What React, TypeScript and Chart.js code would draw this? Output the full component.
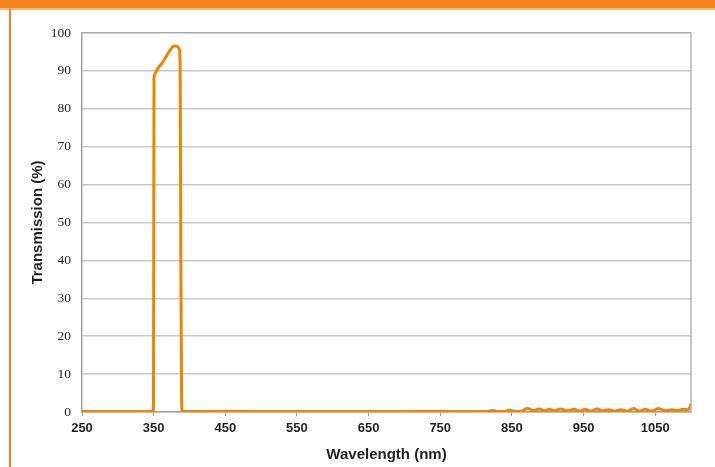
import React, { useEffect, useRef } from "react";
import { Chart, registerables } from "chart.js";

Chart.register(...registerables);

const wavelengthNm = [
  250, 300, 349, 349.8, 350.5, 352, 354, 357, 360, 365, 370, 375, 378, 381, 384, 386, 387, 388, 389, 390,
  420, 450, 550, 650, 750, 780, 800, 815, 823, 831, 840, 847, 855, 864, 872, 880, 888, 895, 902, 910,
  918, 927, 937, 945, 952, 960, 969, 977, 985, 993, 1002, 1011, 1020, 1028, 1036, 1045, 1054, 1064,
  1073, 1081, 1089, 1095, 1098, 1100,
];
const transmissionPct = [
  0.1, 0.1, 0.1, 2, 88, 89.3, 90, 90.9, 91.6, 93, 94.6, 96, 96.6, 96.6, 96.3, 95.6, 90, 40, 3, 0.2,
  0.1, 0.2, 0.1, 0.1, 0.2, 0.1, 0.1, 0.1, 0.4, 0.1, 0.1, 0.5, 0.1, 0.2, 1.0, 0.3, 0.8, 0.3, 0.7, 0.3,
  0.8, 0.3, 0.7, 0.2, 0.7, 0.2, 0.8, 0.3, 0.6, 0.2, 0.6, 0.2, 0.9, 0.2, 0.7, 0.2, 0.9, 0.3,
  0.6, 0.4, 0.7, 0.6, 1.0, 2.2,
];
const xTickValues = [250, 350, 450, 550, 650, 750, 850, 950, 1050];
const xMin = 250;
const xMax = 1100;
const yMin = 0;
const yMax = 100;
const yStep = 10;

const ORANGE = "#f08300";
const FRAME = "#f58220";

export default function App() {
  const ref = useRef<HTMLCanvasElement | null>(null);

  useEffect(() => {
    if (!ref.current) return;
    const points = wavelengthNm.map((x, i) => ({ x, y: transmissionPct[i] }));
    const rightBorder = {
      id: "rightBorder",
      afterDraw(chart: any) {
        const { ctx, chartArea } = chart;
        ctx.save();
        ctx.strokeStyle = "#b4b4b4";
        ctx.lineWidth = 1.5;
        ctx.beginPath();
        ctx.moveTo(chartArea.right, chartArea.top);
        ctx.lineTo(chartArea.right, chartArea.bottom);
        ctx.stroke();
        ctx.restore();
      },
    };
    const chart = new Chart(ref.current, {
      type: "line",
      data: {
        datasets: [
          {
            data: points,
            borderColor: ORANGE,
            borderWidth: 3,
            pointRadius: 0,
            cubicInterpolationMode: "monotone",
            fill: false,
          },
        ],
      },
      plugins: [rightBorder],
      options: {
        animation: false,
        responsive: false,
        maintainAspectRatio: false,
        layout: { padding: { top: 23, right: 24, left: 0, bottom: 0 } },
        plugins: { legend: { display: false }, tooltip: { enabled: false } },
        scales: {
          x: {
            type: "linear",
            min: xMin,
            max: xMax,
            afterBuildTicks: (scale: any) => {
              scale.ticks = xTickValues.map((v) => ({ value: v }));
            },
            afterFit: (scale: any) => {
              scale.height = 55;
            },
            grid: {
              drawOnChartArea: false,
              drawTicks: true,
              tickLength: 4,
              color: "#a0a0a0",
            },
            border: { color: "#a0a0a0", width: 1.5 },
            ticks: {
              padding: 5,
              maxRotation: 0,
              autoSkip: false,
              color: "#231f20",
              callback: (v: any) => String(v),
              font: { family: "'Liberation Sans', Arial, sans-serif", size: 13, weight: "bold" },
            },
            title: {
              display: true,
              text: "Wavelength (nm)",
              color: "#231f20",
              font: { family: "'Liberation Sans', Arial, sans-serif", size: 15, weight: "bold" },
              padding: { top: 0, bottom: 3 },
            },
          },
          y: {
            min: yMin,
            max: yMax,
            afterFit: (scale: any) => {
              scale.width = 70;
            },
            grid: {
              drawTicks: false,
              color: (ctx: any) => (ctx.tick && ctx.tick.value === yMax ? "#a8a8a8" : "#c8c8c8"),
              lineWidth: 1.5,
            },
            border: { color: "#a0a0a0", width: 1.5 },
            ticks: {
              stepSize: yStep,
              padding: 11,
              color: "#231f20",
              callback: (v: any) => String(v),
              font: { family: "'Liberation Serif', 'Times New Roman', serif", size: 13.5 },
            },
            title: {
              display: true,
              text: "Transmission (%)",
              color: "#231f20",
              font: { family: "'Liberation Sans', Arial, sans-serif", size: 15, weight: "bold" },
              padding: { top: 17, bottom: 0 },
            },
          },
        },
      } as any,
    });
    return () => chart.destroy();
  }, []);

  return (
    <div
      style={{
        position: "absolute",
        left: 0,
        top: 0,
        width: 715,
        height: 467,
        background: "#ffffff",
        overflow: "hidden",
      }}
    >
      <div style={{ position: "absolute", left: 0, top: 0, width: 715, height: 8, background: FRAME }} />
      <div style={{ position: "absolute", left: 0, top: 8, width: 715, height: 1.5, background: "#f9b77e" }} />
      <div style={{ position: "absolute", left: 9, top: 9, width: 2, height: 458, background: FRAME }} />
      <canvas
        ref={ref}
        width={703}
        height={457}
        style={{ position: "absolute", left: 12, top: 10, width: 703, height: 457 }}
      />
    </div>
  );
}
